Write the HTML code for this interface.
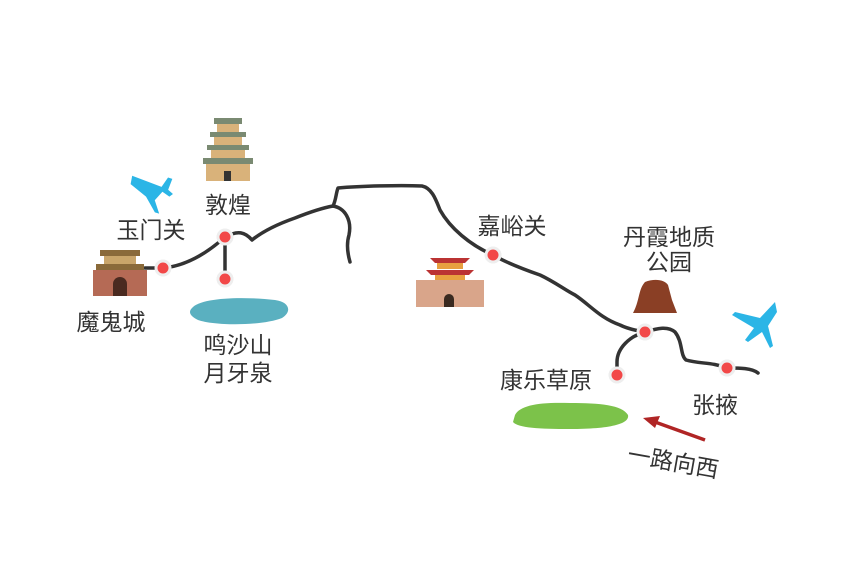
<!DOCTYPE html>
<html><head><meta charset="utf-8"><style>
body{margin:0;background:#fff}
svg text{font-family:"Liberation Sans","Noto Sans CJK SC",sans-serif;fill:#333;font-size:23px;text-anchor:middle}
</style></head><body>
<svg width="850" height="567" viewBox="0 0 850 567" xmlns="http://www.w3.org/2000/svg">
<g fill="none" stroke="#333" stroke-width="3.5" stroke-linecap="round" stroke-linejoin="round">
<path d="M145,268 L163,268 C185,266 205,255 225,237 C238,230 245,232 252,240 C262,232 275,225 295,218 C310,212 322,208 333,206 C345,208 352,220 349,235 C346,245 348,255 350,262"/>
<path d="M333,206 C336,200 336,193 338,188 C360,186 400,185 422,186 C432,188 436,200 440,210 C450,228 470,245 493,255 C505,262 520,268 540,275 C555,282 565,290 575,295 C590,305 600,318 620,325 C630,330 640,331 645,332 C658,328 668,326 675,332 C683,342 680,355 686,360 C700,364 712,362 727,368 C740,368 752,368 758,373"/>
<path d="M225,237 L225,278"/>
<path d="M645,332 C630,336 617,348 617,362 L617,375"/>
</g>
<g fill="#f24848" stroke="#eee" stroke-width="3">
<circle cx="163" cy="268" r="7"/><circle cx="225" cy="237" r="7"/><circle cx="225" cy="279" r="7"/>
<circle cx="493" cy="255" r="7"/><circle cx="645" cy="332" r="7"/><circle cx="617" cy="375" r="7"/><circle cx="727" cy="368" r="7"/>
</g>
<g>
<rect x="214" y="118" width="28" height="6" fill="#7a8a72"/>
<rect x="217" y="124" width="22" height="8" fill="#d9b27a"/>
<rect x="210" y="132" width="36" height="5" fill="#7a8a72"/>
<rect x="214" y="137" width="28" height="8" fill="#d9b27a"/>
<rect x="207" y="145" width="42" height="5" fill="#7a8a72"/>
<rect x="211" y="150" width="34" height="8" fill="#d9b27a"/>
<rect x="203" y="158" width="50" height="6" fill="#7a8a72"/>
<rect x="206" y="164" width="44" height="17" fill="#d9b27a"/>
<rect x="224" y="171" width="7" height="10" fill="#333"/>
</g>
<g>
<rect x="100" y="250" width="40" height="6" fill="#8a6a3a"/>
<rect x="104" y="256" width="32" height="8" fill="#c9a56a"/>
<rect x="96" y="264" width="48" height="6" fill="#8a6a3a"/>
<rect x="93" y="270" width="54" height="26" fill="#b56a55"/>
<path d="M113,296 v-12 a7,7 0 0 1 14,0 v12z" fill="#4a2a20"/>
</g>
<path d="M192,308 C200,298 240,296 275,300 C290,302 292,312 282,318 C262,326 215,326 198,320 C190,316 188,312 192,308z" fill="#5ab0c0"/>
<g>
<path d="M430,258 h40 l-5,5 h-30z" fill="#b33"/>
<rect x="437" y="263" width="26" height="6" fill="#e8a040"/>
<path d="M426,270 h48 l-5,5 h-38z" fill="#b33"/>
<rect x="435" y="275" width="30" height="5" fill="#e8a040"/>
<rect x="416" y="280" width="68" height="27" fill="#d9a58a"/>
<path d="M444,307 v-8 a5,5 0 0 1 10,0 v8z" fill="#3a2a20"/>
</g>
<path d="M633,313 C640,300 638,290 645,282 C655,278 665,280 668,285 L672,300 L677,313z" fill="#8a3f25"/>
<path d="M515,415 C520,405 540,402 570,403 C600,403 622,405 628,415 C630,424 610,429 570,429 C540,429 518,428 513,422z" fill="#7cc24a"/>
<g fill="#2bb5e6">
<path d="M135,172 L162,188 L170,180 L174,182 L168,192 L172,197 L168,199 L162,193 L153,200 L155,214 L151,212 L145,195 L132,180z" transform="rotate(-10 155 190)"/>
<path d="M775,302 L760,318 L735,312 L732,315 L754,328 L745,340 L748,342 L762,332 L770,348 L773,346 L768,326 L777,312z"/>
</g>
<line x1="705" y1="440" x2="655" y2="422" stroke="#b02525" stroke-width="3.5"/>
<path d="M643,418 L660,416 L655,428z" fill="#b02525"/>
<text x="228" y="213">敦煌</text>
<text x="151" y="238">玉门关</text>
<text x="111" y="330">魔鬼城</text>
<text x="238" y="353">鸣沙山</text>
<text x="238" y="381">月牙泉</text>
<text x="512" y="234">嘉峪关</text>
<text x="669" y="245">丹霞地质</text>
<text x="669" y="270">公园</text>
<text x="546" y="388">康乐草原</text>
<text x="715" y="413">张掖</text>
<text x="673" y="470" font-size="18" transform="rotate(10 673 463)">一路向西</text>
</svg>
</body></html>
